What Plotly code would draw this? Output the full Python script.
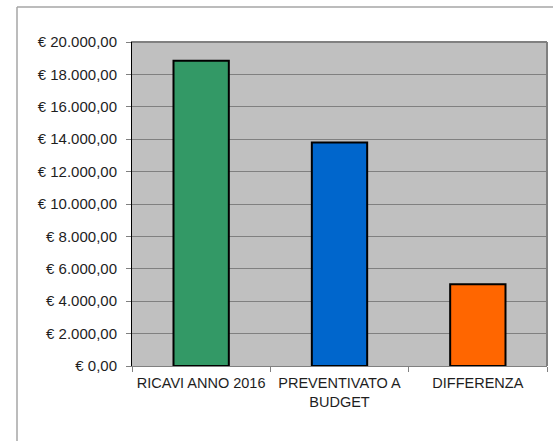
import plotly.graph_objects as go

categories = ["RICAVI ANNO 2016", "PREVENTIVATO A<br>BUDGET", "DIFFERENZA"]
values = [18850, 13800, 5050]
colors = ["#339966", "#0066CC", "#FF6600"]
tick_vals = [0, 2000, 4000, 6000, 8000, 10000, 12000, 14000, 16000, 18000, 20000]
tick_text = ["€ 0,00", "€ 2.000,00", "€ 4.000,00", "€ 6.000,00", "€ 8.000,00",
             "€ 10.000,00", "€ 12.000,00", "€ 14.000,00", "€ 16.000,00",
             "€ 18.000,00", "€ 20.000,00"]

W, H = 553, 441
L, T = 132, 42
R = W - 547
B = H - 366
pw = W - L - R
ph = H - T - B

fig = go.Figure(go.Bar(
    x=categories, y=values,
    marker=dict(color=colors, line=dict(color="black", width=2)),
    width=0.4, hoverinfo="skip"
))

def px_x(p):
    return (p - L) / pw

def px_y(p):
    return (H - B - p) / ph

fig.update_layout(
    width=W, height=H,
    margin=dict(l=L, r=R, t=T, b=B),
    paper_bgcolor="white",
    plot_bgcolor="#C0C0C0",
    font=dict(family="Liberation Sans, Arial, sans-serif", size=14, color="#1e1e1e"),
    showlegend=False,
    xaxis=dict(
        showgrid=False, showline=True, linecolor="#808080", linewidth=1,
        mirror=True, ticks="outside", tickson="boundaries", ticklen=5,
        tickcolor="#808080", tickfont=dict(size=14.5, color="#1e1e1e"),
        ticklabelstandoff=4,
    ),
    yaxis=dict(
        range=[0, 20000], tickvals=tick_vals, ticktext=tick_text,
        showgrid=True, gridcolor="#808080", gridwidth=1,
        showline=True, linecolor="black", linewidth=1,
        ticks="outside", ticklen=5, tickcolor="#808080",
        tickfont=dict(size=15, color="#1e1e1e"), zeroline=False,
        ticklabelstandoff=6,
    ),
    shapes=[
        dict(type="line", xref="paper", yref="paper",
             x0=px_x(17), x1=px_x(600), y0=px_y(7), y1=px_y(7),
             line=dict(color="#A6A6A6", width=1.5)),
        dict(type="line", xref="paper", yref="paper",
             x0=px_x(17), x1=px_x(17), y0=px_y(7), y1=px_y(480),
             line=dict(color="#A6A6A6", width=1.5)),
        dict(type="line", xref="paper", yref="paper",
             x0=1, x1=1, y0=0, y1=1,
             line=dict(color="#808080", width=2)),
        dict(type="line", xref="paper", yref="paper",
             x0=0, x1=1, y0=1, y1=1,
             line=dict(color="#808080", width=2)),
    ],
)

fig.write_html(
    "out.html",
    config={"displayModeBar": False, "staticPlot": True},
    post_script="document.body.style.margin='0';document.body.style.overflow='hidden';",
)
